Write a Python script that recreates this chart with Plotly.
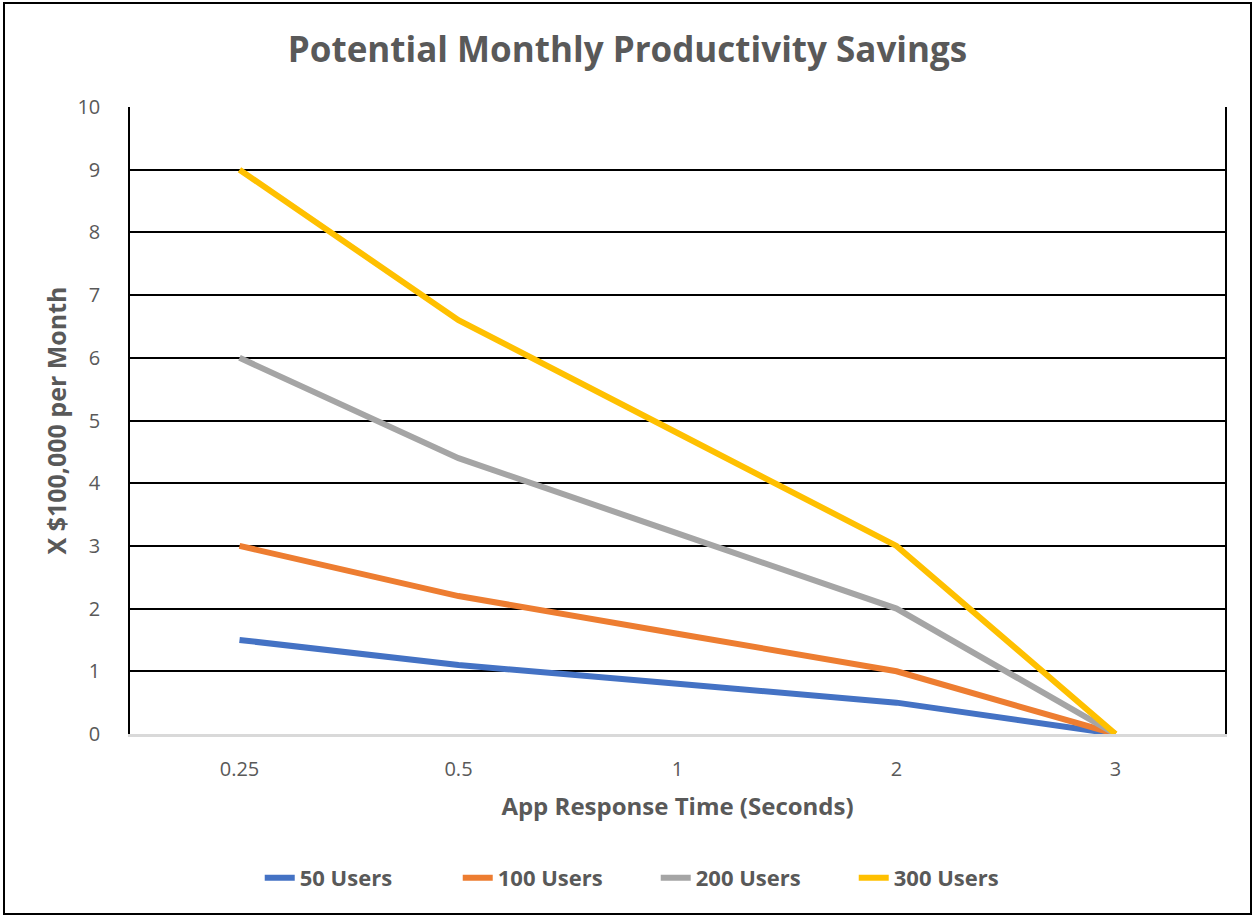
import plotly.graph_objects as go

categories = ["0.25", "0.5", "1", "2", "3"]
users_50 = [1.5, 1.1, 0.8, 0.5, 0]
users_100 = [3.0, 2.2, 1.6, 1.0, 0]
users_200 = [6.0, 4.4, 3.2, 2.0, 0]
users_300 = [9.0, 6.6, 4.8, 3.0, 0]
series_names = ["50 Users", "100 Users", "200 Users", "300 Users"]
colors = ["#4472C4", "#ED7D31", "#A5A5A5", "#FFC000"]

FONT = "Open Sans"
GREY = "#595959"

fig = go.Figure()
for name, vals, col in zip(series_names, [users_50, users_100, users_200, users_300], colors):
    fig.add_trace(go.Scatter(
        x=categories, y=vals, name="<b>" + name + "</b>", mode="lines",
        line=dict(color=col, width=6),
    ))

W, H = 1255, 917
ml, mr, mt, mb = 130, 30, 107, 183
pw, ph = W - ml - mr, H - mt - mb

def px_to_paper_x(px):
    return (px - ml) / pw

def px_to_paper_y(py):
    return (H - mb - py) / ph

fig.update_layout(
    width=W, height=H,
    margin=dict(l=ml, r=mr, t=mt, b=mb),
    paper_bgcolor="white", plot_bgcolor="white",
    font=dict(family=FONT, color=GREY),
    title=dict(text="<b>Potential Monthly Productivity Savings</b>",
               x=0.5, xref="container", xanchor="center",
               y=1 - 50 / H, yref="container", yanchor="middle",
               font=dict(size=35, color=GREY, family=FONT)),
    showlegend=True,
    legend=dict(orientation="h", xref="container", x=0.5225, xanchor="center",
                yref="container", y=1 - 878 / H, yanchor="middle",
                font=dict(size=22, color=GREY, family=FONT), traceorder="normal",
                entrywidth=153, entrywidthmode="pixels"),
    xaxis=dict(type="category", range=[-0.5, 4.5], showgrid=False, showline=True,
               linecolor="#D9D9D9", linewidth=2.5, ticks="",
               tickfont=dict(size=20, color=GREY),
               ticklabelstandoff=15,
               title=dict(text="<b>App Response Time (Seconds)</b>",
                          font=dict(size=24, color=GREY), standoff=18)),
    yaxis=dict(range=[0, 10], dtick=1, showgrid=True, gridcolor="black", gridwidth=1.5,
               zeroline=False, showline=True, linecolor="black", linewidth=1.5,
               mirror=True, ticks="", tickfont=dict(size=20, color=GREY),
               ticklabelstandoff=24,
               title=dict(text="<b>X $100,000 per Month</b>",
                          font=dict(size=25, color=GREY), standoff=4)),
    shapes=[dict(type="rect", xref="paper", yref="paper",
                 x0=px_to_paper_x(4), x1=px_to_paper_x(1251),
                 y0=px_to_paper_y(914), y1=px_to_paper_y(3),
                 line=dict(color="black", width=2), fillcolor="rgba(0,0,0,0)",
                 layer="below")],
)

fig.write_html("out.html", config={"displayModeBar": False},
               post_script="document.body.style.margin='0';document.body.style.overflow='hidden';")
